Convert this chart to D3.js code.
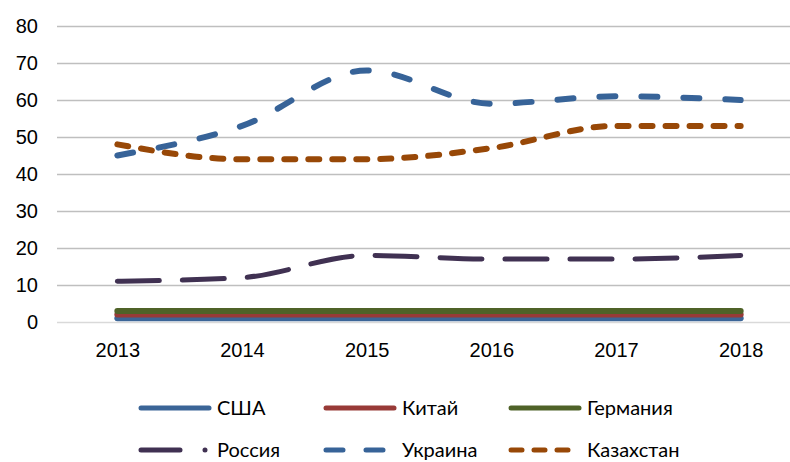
<!DOCTYPE html>
<html>
<head>
<meta charset="UTF-8">
<title>Chart</title>
<script src="https://cdn.jsdelivr.net/npm/d3@7"></script>
<style>
body { margin: 0; background: #fff; }
svg { display: block; font-family: Lato, "Open Sans", sans-serif; }
.tick text { font-size: 20px; fill: #000; }
.legend text { font-size: 20px; fill: #000; }
</style>
</head>
<body>
<div id="chart"></div>
<script>
// data
var years      = ["2013", "2014", "2015", "2016", "2017", "2018"];
var yTicks     = [0, 10, 20, 30, 40, 50, 60, 70, 80];
var usa        = [1, 1, 1, 1, 1, 1];
var china      = [2, 2, 2, 2, 2, 2];
var germany    = [3, 3, 3, 3, 3, 3];
var russia     = [11, 12, 18, 17, 17, 18];
var ukraine    = [45, 53, 68, 59, 61, 60];
var kazakhstan = [48, 44, 44, 47, 53, 53];

var series = [
    { name: "США",       values: usa,        color: "#3b6597", dash: null,     legendDash: null,        w: 6 },
    { name: "Китай",     values: china,      color: "#983a37", dash: null,     legendDash: null,        w: 6 },
    { name: "Германия",  values: germany,    color: "#4f6228", dash: null,     legendDash: null,        w: 6 },
    { name: "Россия",    values: russia,     color: "#403152", dash: "42,23",  legendDash: "39,25,0,100", w: 5 },
    { name: "Украина",   values: ukraine,    color: "#376398", dash: "16,26",  legendDash: "17,23",     w: 6 },
    { name: "Казахстан", values: kazakhstan, color: "#984807", dash: "11,13",  legendDash: "11,12",     w: 6 }
];

var W = 790, H = 462;
var svg = d3.select("#chart").append("svg")
    .attr("width", W)
    .attr("height", H);

var x = d3.scalePoint()
    .domain(years)
    .range([55, 803])
    .padding(0.5);

var y = d3.scaleLinear()
    .domain([0, 80])
    .range([322, 26]);

// gridlines
svg.append("g")
    .selectAll("line")
    .data(yTicks)
    .enter()
    .append("line")
    .attr("x1", 57)
    .attr("x2", W)
    .attr("y1", function (d) { return Math.round(y(d)) + 0.5; })
    .attr("y2", function (d) { return Math.round(y(d)) + 0.5; })
    .attr("stroke", function (d) { return d === 0 ? "#d9d9d9" : "#bfbfbf"; })
    .attr("stroke-width", 1.5);

// y axis labels
var yAxis = svg.append("g")
    .attr("transform", "translate(46,0)")
    .call(d3.axisLeft(y).tickValues(yTicks).tickSize(0).tickPadding(0));
yAxis.select(".domain").remove();
yAxis.selectAll("text").attr("text-anchor", "end").attr("x", -8);

// x axis labels
var xAxis = svg.append("g")
    .attr("transform", "translate(0,339)")
    .call(d3.axisBottom(x).tickSize(0).tickPadding(4));
xAxis.select(".domain").remove();

var line = d3.line()
    .x(function (d, i) { return x(years[i]); })
    .y(function (d) { return y(d); })
    .curve(d3.curveMonotoneX);

svg.append("g")
    .selectAll("path")
    .data(series)
    .enter()
    .append("path")
    .attr("d", function (d) { return line(d.values); })
    .attr("fill", "none")
    .attr("stroke", function (d) { return d.color; })
    .attr("stroke-width", function (d) { return d.w; })
    .attr("stroke-linecap", "round")
    .attr("stroke-linejoin", "round")
    .attr("stroke-dasharray", function (d) { return d.dash; });

// legend
var legX = [141, 326, 511];
var legY = [408, 450];
var legend = svg.append("g").attr("class", "legend")
    .selectAll("g")
    .data(series)
    .enter()
    .append("g")
    .attr("transform", function (d, i) {
        return "translate(" + legX[i % 3] + "," + legY[Math.floor(i / 3)] + ")";
    });

legend.append("line")
    .attr("x1", 0)
    .attr("x2", 68)
    .attr("stroke", function (d) { return d.color; })
    .attr("stroke-width", 5)
    .attr("stroke-linecap", "round")
    .attr("stroke-dasharray", function (d) { return d.legendDash; });

legend.append("text")
    .attr("x", 76)
    .attr("dy", "0.35em")
    .text(function (d) { return d.name; });
</script>
</body>
</html>
